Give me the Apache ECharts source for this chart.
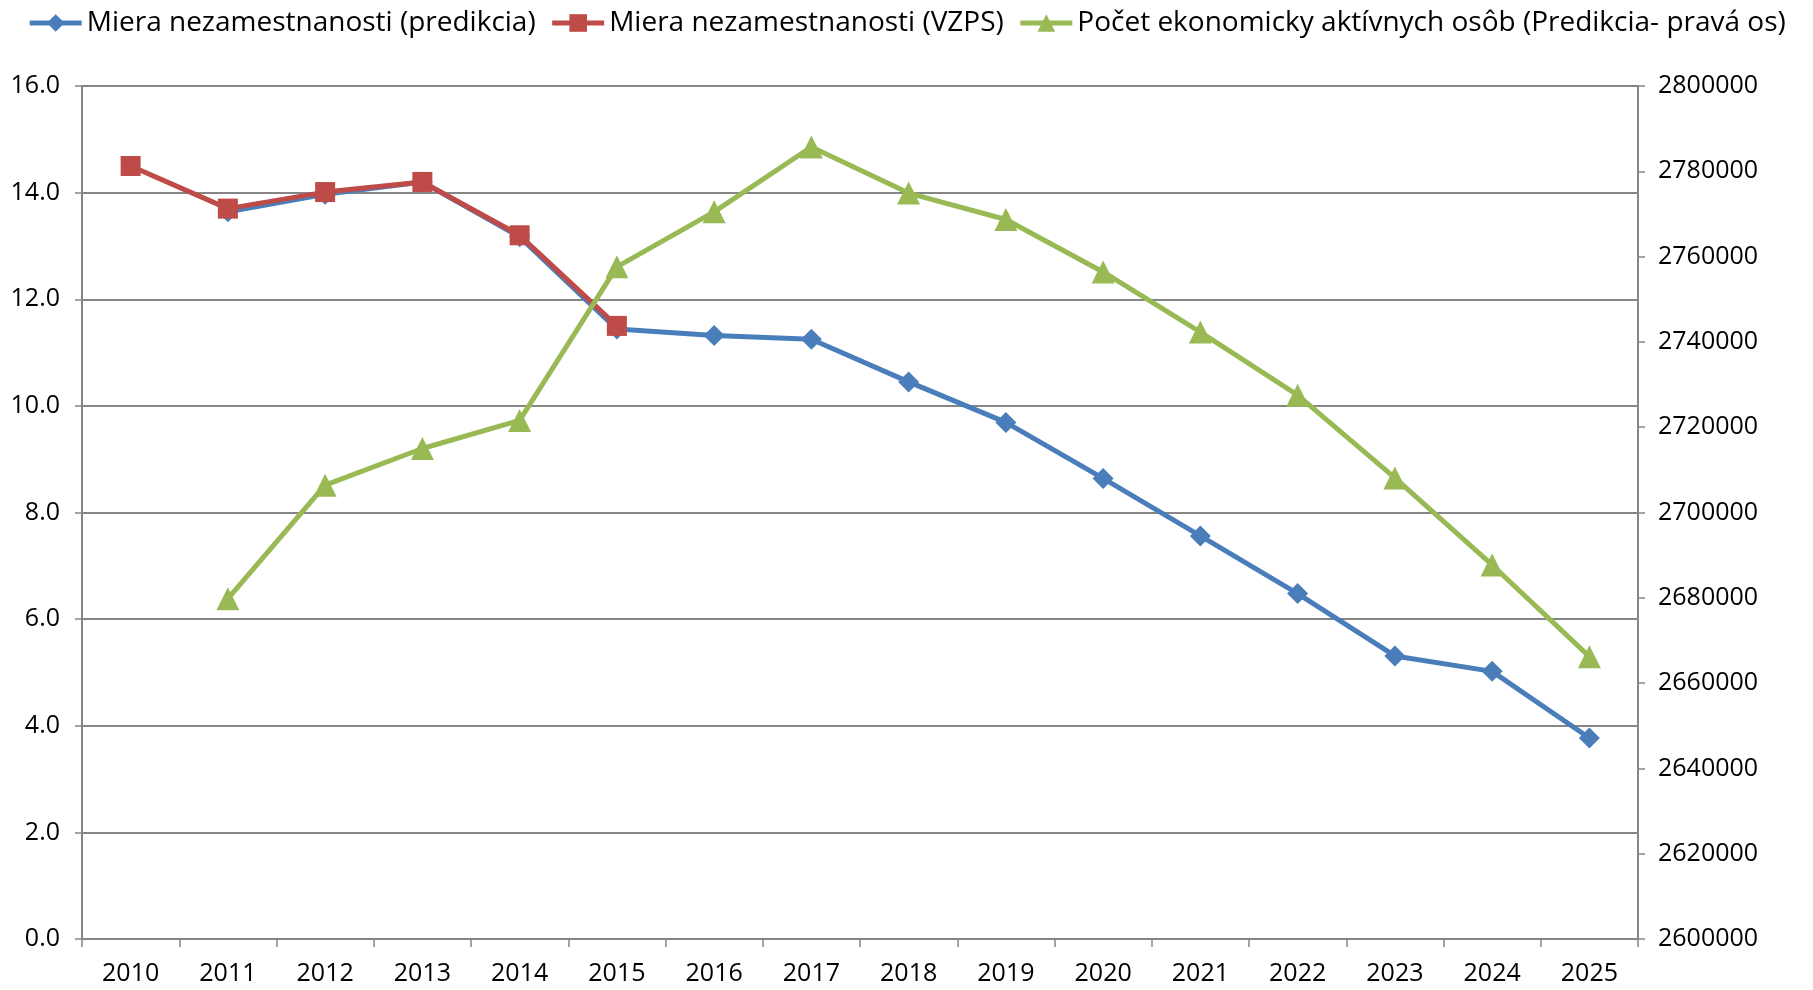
<!DOCTYPE html>
<html>
<head>
<meta charset="utf-8">
<script src="https://cdn.jsdelivr.net/npm/echarts@6/dist/echarts.min.js"></script>
<style>
  html, body { margin: 0; padding: 0; background: #fff; }
  #chart { width: 1813px; height: 990px; }
</style>
</head>
<body>
<div id="chart"></div>
<script>
var years = ['2010', '2011', '2012', '2013', '2014', '2015', '2016', '2017',
  '2018', '2019', '2020', '2021', '2022', '2023', '2024', '2025'];
var rateForecast = [null, 13.64, 13.97, 14.2, 13.17, 11.44, 11.32, 11.25,
  10.45, 9.69, 8.64, 7.56, 6.48, 5.31, 5.02, 3.77];
var rateLfs = [14.5, 13.7, 14.01, 14.2, 13.2, 11.5, null, null,
  null, null, null, null, null, null, null, null];
var activePersons = [null, 2679800, 2706400, 2715000, 2721600, 2757600, 2770500, 2785700,
  2774900, 2768700, 2756400, 2742300, 2727500, 2708100, 2687700, 2666200];
var seriesNames = ['Miera nezamestnanosti (predikcia)', 'Miera nezamestnanosti (VZPS)',
  'Počet ekonomicky aktívnych osôb (Predikcia- pravá os)'];

var fontName = "'Open Sans', sans-serif";
var gridColor = '#868686';

var chart = echarts.init(document.getElementById('chart'));
chart.setOption({
  animation: false,
  textStyle: { fontFamily: fontName },
  legend: {
    top: 4,
    left: 'center',
    itemWidth: 52,
    itemHeight: 22,
    itemGap: 14,
    lineStyle: { width: 5 },
    textStyle: { fontFamily: fontName, fontSize: 28, color: '#000' },
    data: seriesNames
  },
  grid: {
    top: 86,
    left: 82,
    right: 175,
    bottom: 51,
    containLabel: false
  },
  xAxis: {
    type: 'category',
    data: years,
    boundaryGap: true,
    axisLine: { lineStyle: { color: gridColor, width: 2 } },
    axisTick: { show: true, length: 8, lineStyle: { color: gridColor, width: 1.5 } },
    axisLabel: { margin: 22, fontSize: 25, color: '#000', fontFamily: fontName },
    splitLine: { show: false }
  },
  yAxis: [
    {
      type: 'value',
      min: 0,
      max: 16,
      interval: 2,
      axisLine: { show: true, lineStyle: { color: gridColor, width: 2 } },
      axisTick: { show: true, length: 7, lineStyle: { color: gridColor, width: 1.5 } },
      axisLabel: {
        margin: 22, fontSize: 25, color: '#000', fontFamily: fontName,
        formatter: function (v) { return v.toFixed(1); }
      },
      splitLine: { show: true, lineStyle: { color: gridColor, width: 2 } }
    },
    {
      type: 'value',
      min: 2600000,
      max: 2800000,
      interval: 20000,
      position: 'right',
      axisLine: { show: true, lineStyle: { color: gridColor, width: 2 } },
      axisTick: { show: true, length: 7, lineStyle: { color: gridColor, width: 1.5 } },
      axisLabel: {
        margin: 20, fontSize: 25, color: '#000', fontFamily: fontName,
        formatter: function (v) { return String(v); }
      },
      splitLine: { show: false }
    }
  ],
  series: [
    {
      name: seriesNames[0],
      type: 'line',
      data: rateForecast,
      yAxisIndex: 0,
      symbol: 'diamond',
      symbolSize: 21,
      lineStyle: { color: '#4A7EBB', width: 5 },
      itemStyle: { color: '#4A7EBB' },
      z: 2
    },
    {
      name: seriesNames[1],
      type: 'line',
      data: rateLfs,
      yAxisIndex: 0,
      symbol: 'rect',
      symbolSize: 20,
      lineStyle: { color: '#BE4B48', width: 5 },
      itemStyle: { color: '#BE4B48' },
      z: 3
    },
    {
      name: seriesNames[2],
      type: 'line',
      data: activePersons,
      yAxisIndex: 1,
      symbol: 'triangle',
      symbolSize: 23,
      lineStyle: { color: '#98B954', width: 5 },
      itemStyle: { color: '#98B954' },
      z: 4
    }
  ]
});
</script>
</body>
</html>
